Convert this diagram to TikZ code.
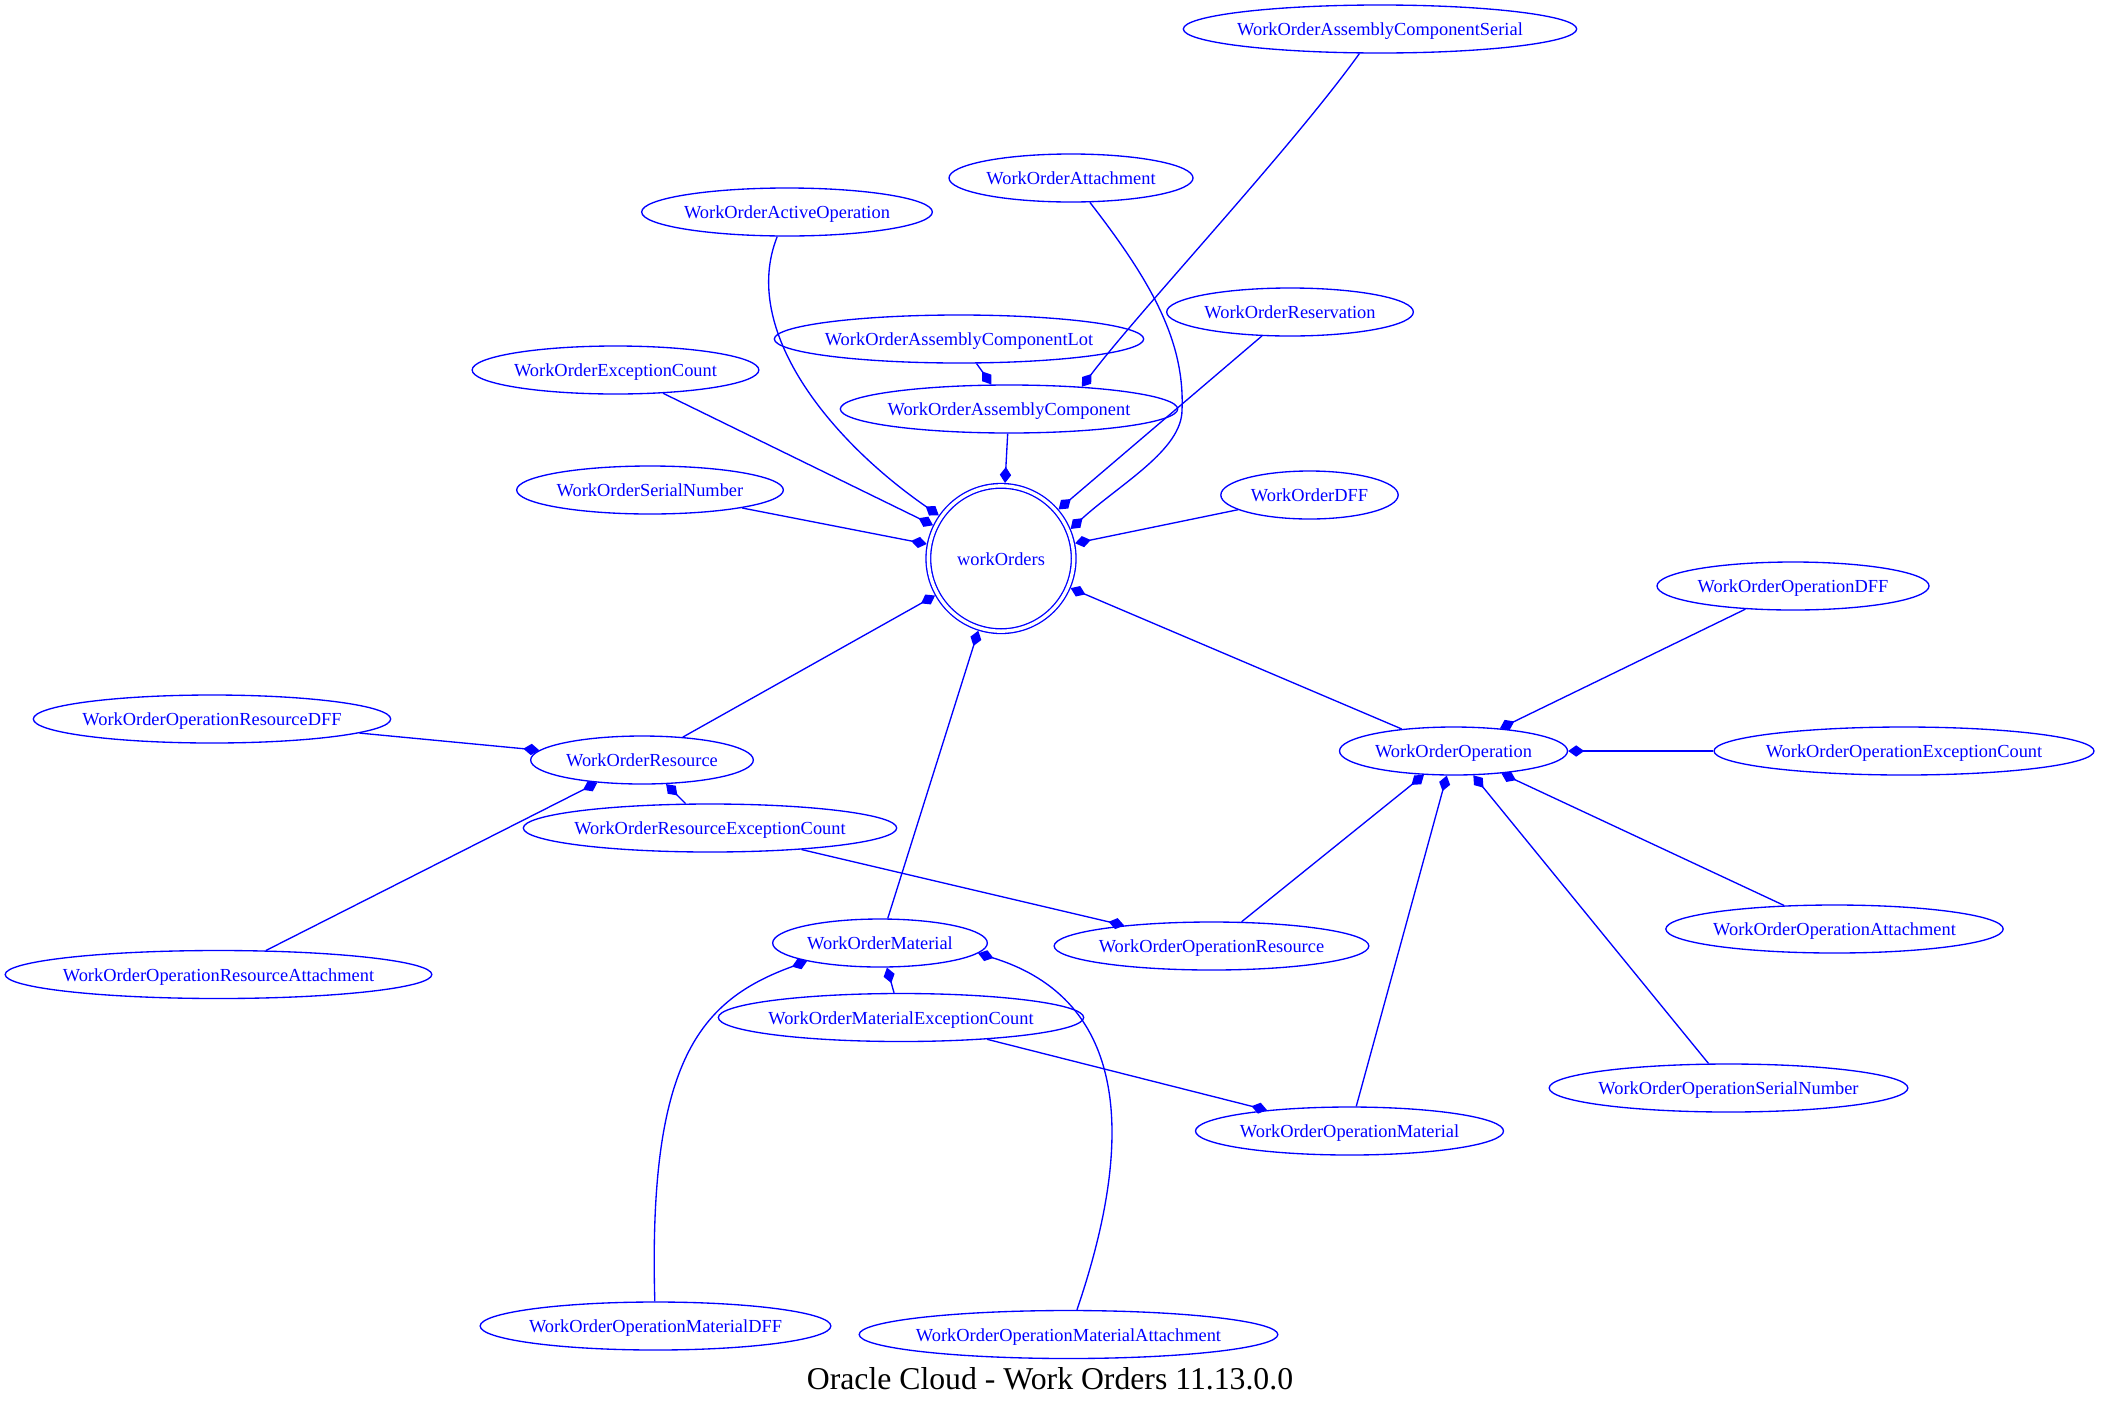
\documentclass[tikz,border=0pt]{standalone}
\usepackage{fontspec}
\setmainfont{Liberation Serif}
\usepackage{tikz}
\usetikzlibrary{arrows.meta,shapes.geometric}
\definecolor{gvBlue}{RGB}{0,0,255}

\begin{document}
\begin{tikzpicture}[x=0.75pt, y=-0.75pt,
  font=\fontsize{13.8}{16}\selectfont,
  ent/.style={ellipse, draw=gvBlue, text=gvBlue, line width=1pt, minimum width=#1, minimum height=36pt, inner xsep=-8pt, inner ysep=2pt, text height=12.9pt, text depth=3pt},
  root/.style={circle, draw=gvBlue, text=gvBlue, line width=1pt, double, double distance=2.5pt, minimum size=109pt, inner sep=0pt, outer sep=2.25pt, text height=12.9pt, text depth=3pt},
  link/.style={draw=gvBlue, line width=1pt, -{Diamond[length=12pt, width=8.5pt]}}]
\useasboundingbox (0,0) rectangle (2101,1407);

\node[root] (wo) at (1001,558.5) {workOrders};
\node[ent=295pt] (acs) at (1380,29) {WorkOrderAssemblyComponentSerial};
\node[ent=183pt] (att) at (1071,178) {WorkOrderAttachment};
\node[ent=218pt] (act) at (787,212) {WorkOrderActiveOperation};
\node[ent=185pt] (res) at (1290,312) {WorkOrderReservation};
\node[ent=277pt] (acl) at (959,339) {WorkOrderAssemblyComponentLot};
\node[ent=215pt] (exc) at (615.5,370) {WorkOrderExceptionCount};
\node[ent=253pt] (ac) at (1009,409) {WorkOrderAssemblyComponent};
\node[ent=200pt] (sn) at (650,490) {WorkOrderSerialNumber};
\node[ent=133pt] (dff) at (1309.5,495) {WorkOrderDFF};
\node[ent=204pt] (opdff) at (1793,586) {WorkOrderOperationDFF};
\node[ent=268pt] (oprdff) at (212,719) {WorkOrderOperationResourceDFF};
\node[ent=171pt] (op) at (1453.5,751) {WorkOrderOperation};
\node[ent=285pt] (opexc) at (1904,751) {WorkOrderOperationExceptionCount};
\node[ent=167pt] (rsc) at (642,760) {WorkOrderResource};
\node[ent=280pt] (rscexc) at (710,828) {WorkOrderResourceExceptionCount};
\node[ent=253pt] (opatt) at (1834.5,929) {WorkOrderOperationAttachment};
\node[ent=161pt] (mat) at (880,943) {WorkOrderMaterial};
\node[ent=236pt] (opr) at (1211.5,946) {WorkOrderOperationResource};
\node[ent=320pt] (opratt) at (218.5,974.5) {WorkOrderOperationResourceAttachment};
\node[ent=274pt] (matexc) at (901,1017.5) {WorkOrderMaterialExceptionCount};
\node[ent=269pt] (opsn) at (1728.5,1088) {WorkOrderOperationSerialNumber};
\node[ent=231pt] (opmat) at (1349.5,1131) {WorkOrderOperationMaterial};
\node[ent=263pt] (opmdff) at (655.5,1326) {WorkOrderOperationMaterialDFF};
\node[ent=314pt] (opmatt) at (1068.5,1334.5) {WorkOrderOperationMaterialAttachment};
\node[font=\fontsize{23.8}{28}\selectfont, anchor=base] (title) at (1050,1389) {Oracle Cloud - Work Orders 11.13.0.0};

\draw[link] (acs.-130) .. controls (1290,150) and (1140,310) .. (ac.17);
\draw[link] (acl) -- (ac);
\draw[link] (ac) -- (wo);
\draw[link] (act) .. controls (740,330) and (830,440) .. (wo);
\draw[link] (att) .. controls (1150,280) and (1185,340) .. (1182,410) .. controls (1182,450) and (1120,484) .. (wo.23);
\draw[link] (res) -- (wo);
\draw[link] (exc) -- (wo);
\draw[link] (sn) -- (wo);
\draw[link] (dff) -- (wo);
\draw[link] (op) -- (wo);
\draw[link] (rsc) -- (wo);
\draw[link] (mat) -- (wo);
\draw[link] (opdff) -- (op);
\draw[link] (opexc) -- (op);
\draw[link] (opatt) -- (op);
\draw[link] (opsn) -- (op);
\draw[link] (opmat) -- (op);
\draw[link] (opr) -- (op);
\draw[link] (oprdff) -- (rsc);
\draw[link] (opratt) -- (rsc);
\draw[link] (rscexc) -- (rsc);
\draw[link] (rscexc) -- (opr);
\draw[link] (matexc) -- (mat);
\draw[link] (matexc) -- (opmat);
\draw[link] (opmdff) .. controls (648,1060) and (700,1000) .. (mat.194);
\draw[link] (opmatt) .. controls (1135,1140) and (1130,1000) .. (mat.-6);
\end{tikzpicture}
\end{document}
